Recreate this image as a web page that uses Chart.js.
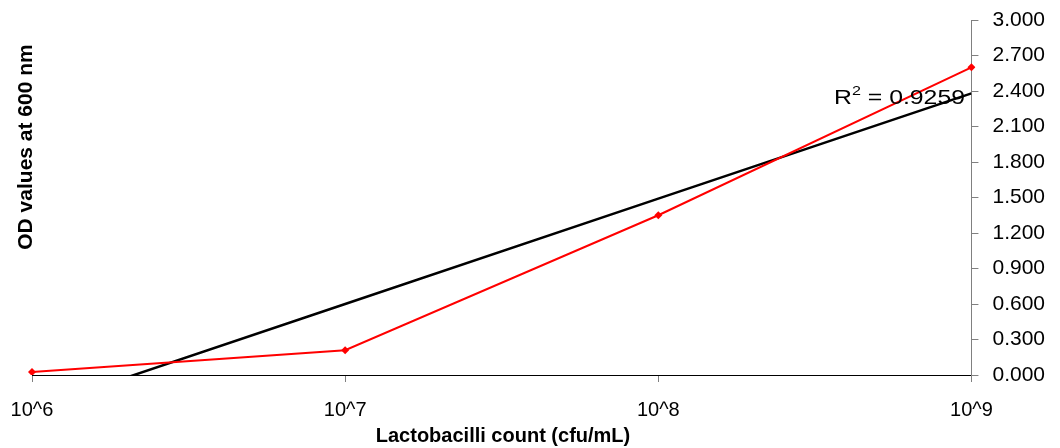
<!DOCTYPE html>
<html>
<head>
<meta charset="utf-8">
<script src="https://cdn.jsdelivr.net/npm/chart.js@4.4.1/dist/chart.umd.min.js"></script>
<style>
  body { margin: 0; background: #fff; }
  #wrap { width: 1060px; height: 448px; }
</style>
</head>
<body>
<div id="wrap"><canvas id="myChart"></canvas></div>
<script>
// categories and values
const counts = ['10^6', '10^7', '10^8', '10^9'];
const odValues = [0.025, 0.21, 1.35, 2.60];
// linear trendline values at each category (clipped at zero by the axis)
const trendValues = [-0.29, 0.60, 1.49, 2.38];
const yTicks = [0, 0.3, 0.6, 0.9, 1.2, 1.5, 1.8, 2.1, 2.4, 2.7, 3.0];
const rSquared = '0.9259';
const xTitle = 'Lactobacilli count (cfu/mL)';
const yTitle = 'OD values at 600 nm';

const FONT = '"Liberation Sans", Arial, sans-serif';

// extra text: axis titles and R squared label
const extras = {
    id: 'extras',
    afterDraw(chart) {
        const c = chart.ctx;
        c.save();
        c.fillStyle = '#000';
        c.textAlign = 'center';
        c.textBaseline = 'middle';
        // bottom x title
        c.font = 'bold 20px ' + FONT;
        c.fillText(xTitle, 503, 436);
        // left y title
        c.font = 'bold 21px ' + FONT;
        c.translate(26, 147);
        c.rotate(-Math.PI / 2);
        c.fillText(yTitle, 0, 0);
        c.restore();

        // R squared
        c.save();
        c.fillStyle = '#000';
        c.translate(834, 104);
        c.scale(1.24, 1);
        c.textBaseline = 'alphabetic';
        c.font = '20px ' + FONT;
        c.fillText('R', 0, 0);
        let w = c.measureText('R').width;
        c.font = '13px ' + FONT;
        c.fillText('2', w, -9);
        w += c.measureText('2').width;
        c.font = '20px ' + FONT;
        c.fillText(' = ' + rSquared, w, 0);
        c.restore();
    }
};

const ctx = document.getElementById('myChart').getContext('2d');

const data = {
    labels: counts,
    datasets: [{
        label: 'OD',
        data: odValues,
        borderColor: '#ff0000',
        backgroundColor: '#ff0000',
        borderWidth: 2,
        pointStyle: 'rectRot',
        pointRadius: 4,
        pointBorderWidth: 0,
        tension: 0,
        order: 1
    }, {
        label: 'Linear',
        data: trendValues,
        borderColor: '#000000',
        borderWidth: 2.5,
        pointRadius: 0,
        tension: 0,
        clip: 0,
        order: 2
    }]
};

const config = {
    type: 'line',
    data: data,
    options: {
        responsive: true,
        maintainAspectRatio: false,
        animation: false,
        layout: { padding: { left: 0, top: 0, right: 1, bottom: 10 } },
        plugins: {
            legend: { display: false },
            tooltip: { enabled: false }
        },
        scales: {
            x: {
                offset: false,
                afterFit(axis) {
                    axis.paddingLeft = 32;
                },
                grid: { drawOnChartArea: false, color: '#808080', tickLength: 7 },
                border: { color: '#000', width: 1 },
                ticks: { color: '#000', font: { family: FONT, size: 20 }, padding: 16, maxRotation: 0 }
            },
            y: {
                position: 'right',
                min: 0,
                max: 3,
                afterBuildTicks(axis) {
                    axis.ticks = yTicks.map(v => ({ value: v }));
                },
                afterFit(axis) {
                    axis.paddingTop = 20;
                },
                grid: { drawOnChartArea: false, color: '#808080', tickLength: 7 },
                border: { color: '#808080', width: 1 },
                ticks: {
                    color: '#000',
                    font: { family: FONT, size: 21 },
                    padding: 14,
                    callback: v => Number(v).toFixed(3)
                }
            }
        }
    },
    plugins: [extras]
};

const myChart = new Chart(ctx, config);
</script>
</body>
</html>
